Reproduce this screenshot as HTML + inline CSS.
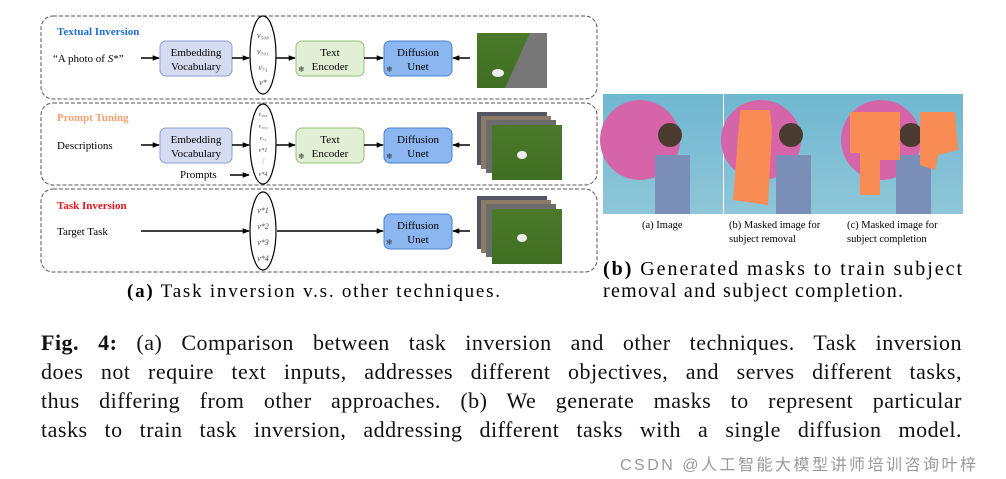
<!DOCTYPE html>
<html><head><meta charset="utf-8"><style>
body{margin:0;background:#fff;width:1006px;height:479px;overflow:hidden;position:relative;font-family:"Liberation Serif",serif}
.a{position:absolute;white-space:nowrap}
.cap{font-size:22px;letter-spacing:0.5px;color:#111;left:41px;width:921px;text-align:justify;text-align-last:justify}
</style></head><body>
<svg width="1006" height="479" style="position:absolute;left:0;top:0" font-family="Liberation Serif, serif">
<defs>
<marker id="ar" viewBox="0 0 10 10" refX="9" refY="5" markerWidth="5" markerHeight="5" orient="auto"><path d="M0,1 L10,5 L0,9 z" fill="#000"/></marker>
<linearGradient id="g" x1="0" y1="0" x2="0" y2="1"><stop offset="0" stop-color="#4c7a2c"/><stop offset="1" stop-color="#3f6e22"/></linearGradient>
<linearGradient id="sky" x1="0" y1="0" x2="0" y2="1"><stop offset="0" stop-color="#6fb7d0"/><stop offset="1" stop-color="#8fc6d8"/></linearGradient>
</defs>
<g fill="none" stroke="#555" stroke-dasharray="4,2" stroke-width="1">
<rect x="41" y="16" width="556" height="83" rx="12"/>
<rect x="41" y="103" width="556" height="82" rx="12"/>
<rect x="41" y="189" width="556" height="83" rx="12"/>
</g>
<g font-size="11" text-anchor="middle">
<rect x="160" y="41" width="72" height="35" rx="6" fill="#d5dcf1" stroke="#8d9fd3"/>
<text x="196" y="56">Embedding</text><text x="196" y="70">Vocabulary</text>
<rect x="296" y="41" width="68" height="35" rx="6" fill="#e1efd5" stroke="#98bf78"/>
<text x="330" y="56">Text</text><text x="330" y="70">Encoder</text>
<rect x="384" y="41" width="68" height="35" rx="6" fill="#8cb6ef" stroke="#4a82cf"/>
<text x="418" y="56">Diffusion</text><text x="418" y="70">Unet</text>
<rect x="160" y="128" width="72" height="35" rx="6" fill="#d5dcf1" stroke="#8d9fd3"/>
<text x="196" y="143">Embedding</text><text x="196" y="157">Vocabulary</text>
<rect x="296" y="128" width="68" height="35" rx="6" fill="#e1efd5" stroke="#98bf78"/>
<text x="330" y="143">Text</text><text x="330" y="157">Encoder</text>
<rect x="384" y="128" width="68" height="35" rx="6" fill="#8cb6ef" stroke="#4a82cf"/>
<text x="418" y="143">Diffusion</text><text x="418" y="157">Unet</text>
<rect x="384" y="214" width="68" height="35" rx="6" fill="#8cb6ef" stroke="#4a82cf"/>
<text x="418" y="229">Diffusion</text><text x="418" y="243">Unet</text>
</g>
<g font-size="8" fill="#333"><text x="298" y="72">❄</text><text x="386" y="72">❄</text><text x="298" y="159">❄</text><text x="386" y="159">❄</text><text x="386" y="245">❄</text></g>
<g fill="none" stroke="#000" stroke-width="1.2">
<ellipse cx="263" cy="55" rx="13" ry="39"/>
<ellipse cx="263" cy="144" rx="13" ry="40"/>
<ellipse cx="263" cy="231" rx="13" ry="39"/>
</g>
<g font-size="8" font-style="italic" fill="#444" text-anchor="middle">
<text x="263" y="38">v₅₀₈</text><text x="263" y="54">v₇₀₁</text><text x="263" y="70">v₇₃</text><text x="263" y="85">v*</text>
<text x="263" y="116" font-size="6">v₅₀₈</text><text x="263" y="128" font-size="6">v₇₀₁</text><text x="263" y="140" font-size="6">v₇₃</text><text x="263" y="152" font-size="6">v*1</text><text x="263" y="163" font-size="6">⋮</text><text x="263" y="176" font-size="6">v*4</text>
<text x="263" y="213">v*1</text><text x="263" y="229">v*2</text><text x="263" y="245">v*3</text><text x="263" y="261">v*4</text>
</g>
<g stroke="#000" stroke-width="1.4" marker-end="url(#ar)">
<line x1="141" y1="58" x2="159" y2="58"/><line x1="232" y1="58" x2="249" y2="58"/><line x1="276" y1="58" x2="295" y2="58"/><line x1="364" y1="58" x2="383" y2="58"/><line x1="470" y1="58" x2="453" y2="58"/>
<line x1="141" y1="145" x2="159" y2="145"/><line x1="232" y1="145" x2="249" y2="145"/><line x1="276" y1="145" x2="295" y2="145"/><line x1="364" y1="145" x2="383" y2="145"/><line x1="470" y1="145" x2="453" y2="145"/>
<line x1="230" y1="175" x2="249" y2="175"/>
<line x1="141" y1="231" x2="249" y2="231"/><line x1="277" y1="231" x2="383" y2="231"/><line x1="470" y1="231" x2="453" y2="231"/>
</g>
<g font-size="11">
<text x="57" y="35" fill="#1f6fd1" font-weight="bold">Textual Inversion</text>
<text x="53" y="62">“A photo of <tspan font-style="italic">S</tspan>*”</text>
<text x="57" y="121" fill="#f4a070" font-weight="bold">Prompt Tuning</text>
<text x="57" y="149">Descriptions</text>
<text x="180" y="178">Prompts</text>
<text x="57" y="209" fill="#e8141b" font-weight="bold">Task Inversion</text>
<text x="57" y="235">Target Task</text>
</g>
<rect x="477" y="33" width="70" height="55" fill="url(#g)"/><polygon points="530,33 547,33 547,88 505,88" fill="#777"/><ellipse cx="498" cy="73" rx="6" ry="4" fill="#eee"/>
<g><rect x="477" y="112" width="70" height="53" fill="#556"/><rect x="481" y="116" width="70" height="53" fill="#8a7a66"/><rect x="486" y="120" width="70" height="53" fill="#6b6b6b"/><rect x="492" y="125" width="70" height="55" fill="url(#g)"/><ellipse cx="522" cy="155" rx="5" ry="4" fill="#eee"/></g>
<g><rect x="477" y="196" width="70" height="53" fill="#556"/><rect x="481" y="200" width="70" height="53" fill="#8a7a66"/><rect x="486" y="204" width="70" height="53" fill="#6b6b6b"/><rect x="492" y="209" width="70" height="55" fill="url(#g)"/><ellipse cx="522" cy="238" rx="5" ry="4" fill="#eee"/></g>
<g>
<rect x="603" y="94" width="120" height="120" fill="url(#sky)"/><circle cx="640" cy="140" r="40" fill="#d564a8"/><rect x="655" y="155" width="35" height="59" fill="#7a8fb8"/><circle cx="670" cy="135" r="12" fill="#4a3a30"/>
<rect x="724" y="94" width="120" height="120" fill="url(#sky)"/><circle cx="761" cy="140" r="40" fill="#d564a8"/><rect x="776" y="155" width="35" height="59" fill="#7a8fb8"/><circle cx="791" cy="135" r="12" fill="#4a3a30"/><polygon points="740,110 770,110 772,130 768,205 733,200 737,150" fill="#f98b55"/>
<rect x="844" y="94" width="119" height="120" fill="url(#sky)"/><circle cx="881" cy="140" r="40" fill="#d564a8"/><rect x="896" y="155" width="35" height="59" fill="#7a8fb8"/><circle cx="911" cy="135" r="12" fill="#4a3a30"/><polygon points="850,112 900,112 900,160 880,160 880,195 860,195 860,153 850,153" fill="#f98b55"/><polygon points="920,112 955,112 958,150 938,155 935,170 920,165" fill="#f98b55"/>
</g>
<g font-size="10.5"><text x="642" y="228">(a) Image</text><text x="729" y="228">(b) Masked image for</text><text x="729" y="242">subject removal</text><text x="847" y="228">(c) Masked image for</text><text x="847" y="242">subject completion</text></g>
<text x="127" y="297" font-size="19" textLength="373" lengthAdjust="spacing"><tspan font-weight="bold">(a)</tspan> Task inversion v.s. other techniques.</text>
<text x="603" y="275" font-size="20" textLength="359" lengthAdjust="spacing"><tspan font-weight="bold">(b)</tspan>  Generated masks to train subject</text>
<text x="603" y="297" font-size="20" textLength="300" lengthAdjust="spacing">removal and subject completion.</text>
</svg>
<div class="a cap" style="top:330px"><b>Fig. 4:</b> (a) Comparison between task inversion and other techniques. Task inversion</div>
<div class="a cap" style="top:359px">does not require text inputs, addresses different objectives, and serves different tasks,</div>
<div class="a cap" style="top:388px">thus differing from other approaches. (b) We generate masks to represent particular</div>
<div class="a cap" style="top:417px">tasks to train task inversion, addressing different tasks with a single diffusion model.</div>
<div class="a" style="left:620px;top:451px;font:16px 'Liberation Sans','Noto Sans CJK SC',sans-serif;letter-spacing:2.5px;color:#999">CSDN @人工智能大模型讲师培训咨询叶梓</div>
</body></html>
